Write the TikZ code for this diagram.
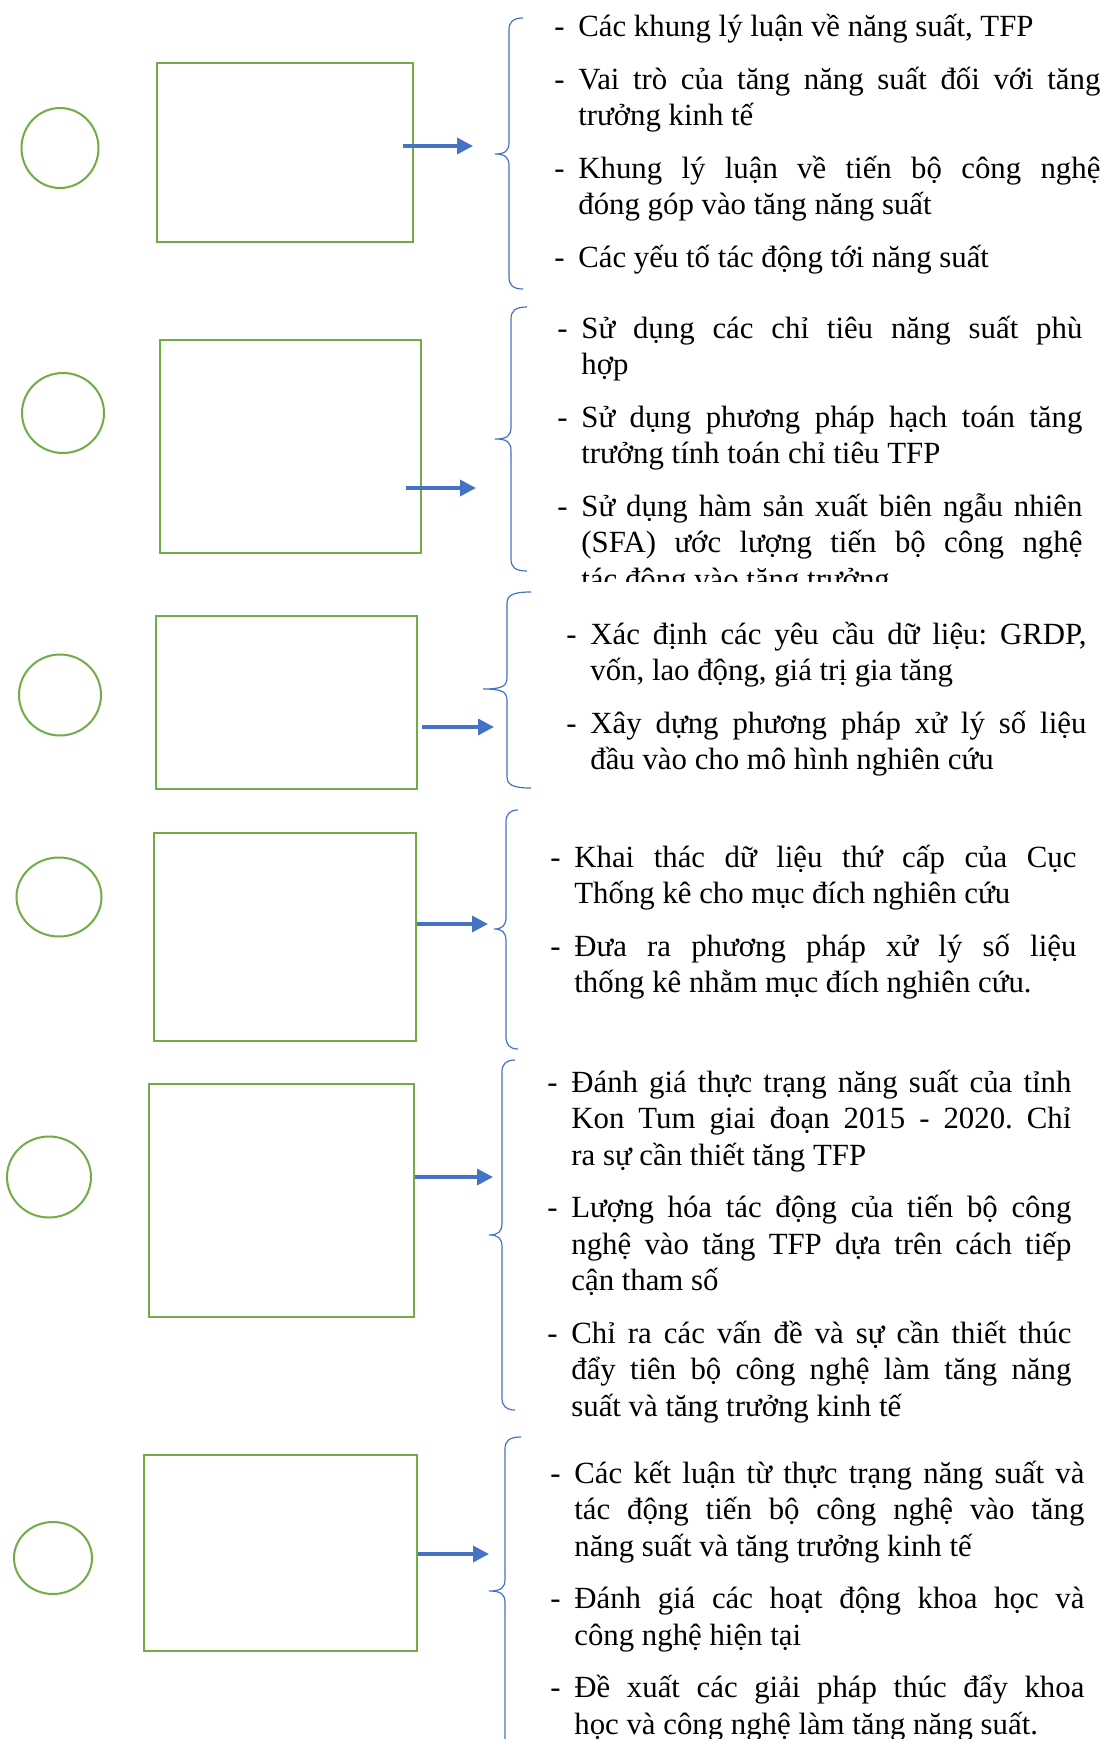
\documentclass[tikz,border=0pt]{standalone}
\usepackage{fontspec}
\setmainfont{Liberation Serif}
\usepackage{tikz}
\usetikzlibrary{arrows.meta,shapes.geometric,calc}

\definecolor{grn}{HTML}{70AD47}
\definecolor{blu}{HTML}{4472C4}

% one dash item with hanging indent
\newcommand{\itm}[1]{\hangindent=12pt\hangafter=1\makebox[12pt][l]{-}#1\par}
% left brace: line x, top, tip, bottom, width
\newcommand{\lbr}[5]{%
  \draw[brc] (#1+#5,#2) .. controls (#1+4,#2) and (#1,#2+4) .. (#1,#2+12)
    -- (#1,#3-12) .. controls (#1,#3-3) and (#1-4,#3) .. (#1-#5,#3)
    .. controls (#1-4,#3) and (#1,#3+3) .. (#1,#3+12)
    -- (#1,#4-12) .. controls (#1,#4-4) and (#1+4,#4) .. (#1+#5,#4);}

\begin{document}
\begin{tikzpicture}[x=0.5pt,y=-0.5pt,
    circ/.style={draw=grn,line width=1pt,ellipse,inner sep=0pt},
    box/.style={draw=grn,line width=1.2pt,anchor=north west,inner sep=0pt},
    arr/.style={draw=blu,line width=1.7pt,-{Triangle[length=8pt,width=8pt]}},
    brc/.style={draw=blu,line width=0.6pt},
    items/.style={anchor=base west,inner sep=0pt,align=justify,
      font=\fontsize{15.4pt}{18.25pt}\selectfont,
      execute at begin node={\frenchspacing\setlength{\parskip}{8pt}\hyphenpenalty=10000 \tolerance=10000 }}]

  \path[fill=white,use as bounding box] (0,0) rectangle (1101,1739);

  % circles
  \node[circ,minimum width=38.5pt,minimum height=40pt] (c1) at (60,148) {};
  \node[circ,minimum width=41pt,minimum height=40pt]   (c2) at (63,413) {};
  \node[circ,minimum width=41pt,minimum height=40.5pt] (c3) at (60,695) {};
  \node[circ,minimum width=42.5pt,minimum height=39.5pt] (c4) at (59,897) {};
  \node[circ,minimum width=42pt,minimum height=40.5pt] (c5) at (49,1177) {};
  \node[circ,minimum width=39pt,minimum height=36pt]   (c6) at (53,1558) {};

  % boxes
  \node[box,minimum width=128pt,minimum height=89.5pt]   (b1) at (156,62) {};
  \node[box,minimum width=130.5pt,minimum height=106.5pt] (b2) at (159,339) {};
  \node[box,minimum width=130.5pt,minimum height=86.5pt]  (b3) at (155,615) {};
  \node[box,minimum width=131pt,minimum height=104pt]     (b4) at (153,832) {};
  \node[box,minimum width=132.5pt,minimum height=116.5pt] (b5) at (148,1083) {};
  \node[box,minimum width=136.5pt,minimum height=98pt]    (b6) at (143,1454) {};

  % arrow ends
  \coordinate (e1) at (473,146);
  \coordinate (e2) at (476,488);
  \coordinate (e3) at (494,727);
  \coordinate (e4) at (488,924);
  \coordinate (e5) at (493,1177);
  \coordinate (e6) at (489,1554);

  \draw[arr] ($(b1.east |- e1)+(-11,0)$) -- (e1);
  \draw[arr] ($(b2.east |- e2)+(-16,0)$) -- (e2);
  \draw[arr] ($(b3.east |- e3)+(4,0)$) -- (e3);
  \draw[arr] (b4.east |- e4) -- (e4);
  \draw[arr] (b5.east |- e5) -- (e5);
  \draw[arr] (b6.east |- e6) -- (e6);

  % braces
  \lbr{509}{18}{154}{289}{14}
  \lbr{511}{307}{439}{571}{16}
  \lbr{507}{592}{689}{788}{24}
  \lbr{506}{810}{929}{1049}{12}
  \lbr{502}{1060}{1235}{1410}{13}
  \lbr{505}{1437}{1591}{1800}{16}

  % texts
  \node[items,text width=273pt] (t1) at (554,37) {%
    \itm{Các khung lý luận về năng suất, TFP}%
    \itm{Vai trò của tăng năng suất đối với tăng\linebreak trưởng kinh tế}%
    \itm{Khung lý luận về tiến bộ công nghệ\linebreak đóng góp vào tăng năng suất}%
    \itm{Các yếu tố tác động tới năng suất}};

  \begin{scope}
    \clip (0,0) rectangle (1101,581);
    \node[items,text width=262.5pt] (t2) at (557,338) {%
      \itm{Sử dụng các chỉ tiêu năng suất phù\linebreak hợp}%
      \itm{Sử dụng phương pháp hạch toán tăng\linebreak trưởng tính toán chỉ tiêu TFP}%
      \itm{Sử dụng hàm sản xuất biên ngẫu nhiên\linebreak (SFA) ước lượng tiến bộ công nghệ\linebreak tác động vào tăng trưởng}};
  \end{scope}

  \node[items,text width=260pt] (t3) at (566,644) {%
    \itm{Xác định các yêu cầu dữ liệu: GRDP,\linebreak vốn, lao động, giá trị gia tăng}%
    \itm{Xây dựng phương pháp xử lý số liệu\linebreak đầu vào cho mô hình nghiên cứu}};

  \node[items,text width=263pt] (t4) at (550,867) {%
    \itm{Khai thác dữ liệu thứ cấp của Cục\linebreak Thống kê cho mục đích nghiên cứu}%
    \itm{Đưa ra phương pháp xử lý số liệu\linebreak thống kê nhằm mục đích nghiên cứu.}};

  \node[items,text width=262pt] (t5) at (547,1092) {%
    \itm{Đánh giá thực trạng năng suất của tỉnh\linebreak Kon Tum giai đoạn 2015 - 2020. Chỉ\linebreak ra sự cần thiết tăng TFP}%
    \itm{Lượng hóa tác động của tiến bộ công\linebreak nghệ vào tăng TFP dựa trên cách tiếp\linebreak cận tham số}%
    \itm{Chỉ ra các vấn đề và sự cần thiết thúc\linebreak đẩy tiên bộ công nghệ làm tăng năng\linebreak suất và tăng trưởng kinh tế}};

  \node[items,text width=267pt] (t6) at (550,1483) {%
    \itm{Các kết luận từ thực trạng năng suất và\linebreak tác động tiến bộ công nghệ vào tăng\linebreak năng suất và tăng trưởng kinh tế}%
    \itm{Đánh giá các hoạt động khoa học và\linebreak công nghệ hiện tại}%
    \itm{Đề xuất các giải pháp thúc đẩy khoa\linebreak học và công nghệ làm tăng năng suất.}};
\end{tikzpicture}
\end{document}
